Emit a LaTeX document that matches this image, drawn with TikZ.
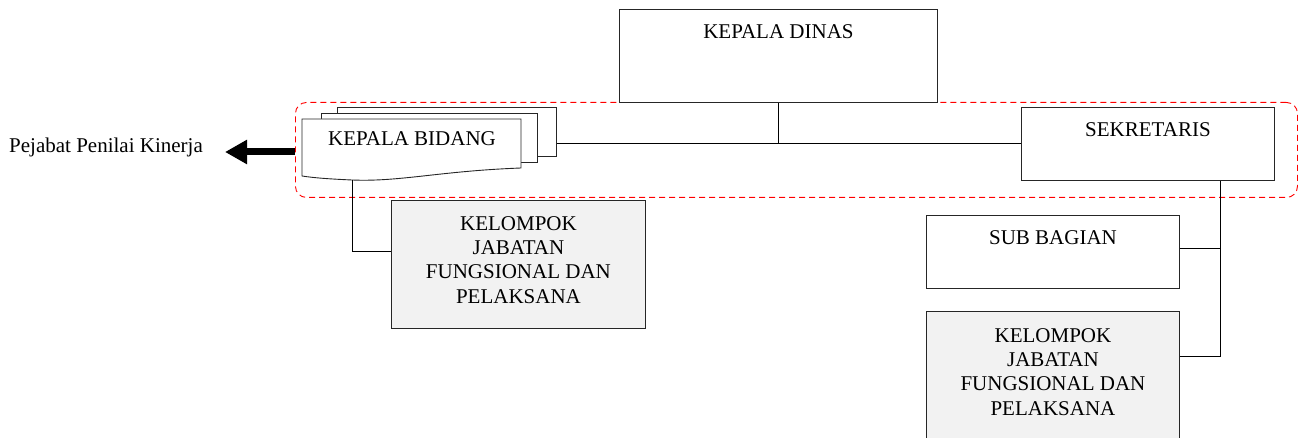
\documentclass[tikz,border=0pt]{standalone}
\usepackage{fontspec}
\setmainfont{Liberation Serif}
\usetikzlibrary{arrows.meta,calc}
\begin{document}
\begin{tikzpicture}[x=1pt,y=-1pt,
  box/.style={draw=black!85, line width=0.9pt, fill=white, anchor=north west, inner sep=0pt},
  gbox/.style={box, fill=black!5},
  lbl/.style={font=\fontsize{21}{24.3}\selectfont, inner sep=0pt},
  conn/.style={draw=black, line width=0.9pt},
  grpbox/.style={draw=red, line width=0.9pt, dash pattern=on 6pt off 4pt, rounded corners=11pt, anchor=north west, inner sep=0pt}]
\path[use as bounding box, clip] (0,0) rectangle (1298,438);

% dashed group
\node[grpbox, minimum width=1002, minimum height=95] (grp) at (295,102) {};

% left label and arrow
\node[lbl, anchor=base west] (pjk) at (9,153) {Pejabat Penilai Kinerja};
\coordinate (pj) at (225,152);
\draw[line width=7pt, -{Triangle[length=22pt,width=23pt]}] (grp.west |- pj) -- (pj);

% top box
\node[box, minimum width=318, minimum height=93,
  label={[lbl,anchor=base,yshift=-30pt]north:KEPALA DINAS}] (kd) at (619,9) {};

% kepala bidang stack
\node[box, minimum width=219, minimum height=49] (kb3) at (337,107) {};
\node[box, minimum width=216, minimum height=49] (kb2) at (321,113) {};
\draw[draw=black!85, line width=0.9pt, fill=white]
  (302,119) -- (521,119) -- (521,168)
  .. controls (440,171) and (400,182) .. (352,180)
  .. controls (330,179) and (315,178) .. (302,176) -- cycle;
\node[lbl, anchor=base] (kb) at (412,146) {KEPALA BIDANG};
\coordinate (kbb) at (352,180);

% sekretaris side
\node[box, minimum width=253, minimum height=73,
  label={[lbl,anchor=base,yshift=-30pt]north:SEKRETARIS}] (sek) at (1021,107) {};
\node[box, minimum width=253, minimum height=73,
  label={[lbl,anchor=base,yshift=-30pt]north:SUB BAGIAN}] (sb) at (926,215) {};
\node[gbox, minimum width=253, minimum height=140,
  label={[lbl,align=center,anchor=north,yshift=-17pt]north:KELOMPOK\\JABATAN\\FUNGSIONAL DAN\\PELAKSANA}] (kel2) at (926,311) {};

% kelompok under kepala bidang
\node[gbox, minimum width=254, minimum height=128,
  label={[lbl,align=center,anchor=north,yshift=-16pt]north:KELOMPOK\\JABATAN\\FUNGSIONAL DAN\\PELAKSANA}] (kel1) at (391,200) {};

% connectors
\draw[conn] (kd.south) -- (kd.south |- sek.west);
\draw[conn] (kb3.east |- sek.west) -- (sek.west);
\coordinate (k1j) at ($(kel1.north west)+(0,51)$);
\draw[conn] (kbb) |- (k1j);
\coordinate (sekb) at ($(sek.south west)+(199,0)$);
\coordinate (k2j) at ($(kel2.north east)+(0,45)$);
\draw[conn] (sekb) |- (k2j);
\coordinate (sbj) at ($(sb.north east)+(0,33)$);
\draw[conn] (sbj) -- (sbj -| sekb);
\end{tikzpicture}
\end{document}
